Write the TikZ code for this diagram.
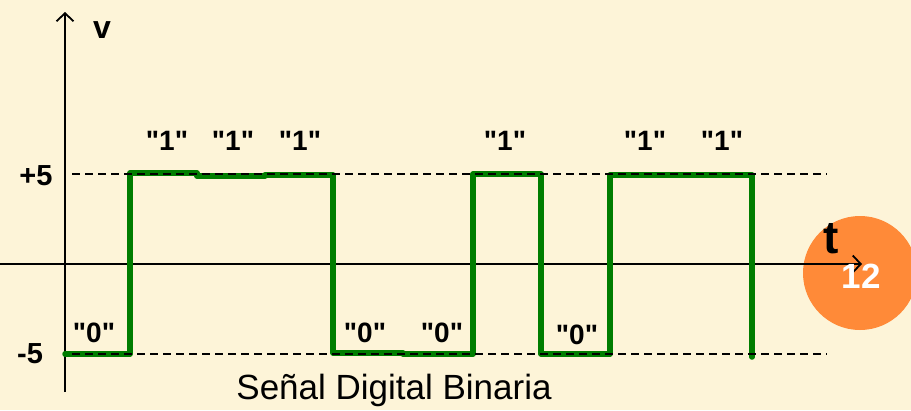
\documentclass[tikz,border=0pt]{standalone}
\usepackage{fontspec}
\setmainfont{Liberation Sans}
\usetikzlibrary{arrows.meta}
\definecolor{paper}{RGB}{253,244,216}
\definecolor{sig}{RGB}{0,125,0}
\definecolor{badge}{RGB}{255,138,56}
\newcommand{\qb}[1]{\textquotedbl#1\textquotedbl}
\tikzset{
  axis/.style={line width=1.8pt,-{Straight Barb[length=8pt,width=17pt,line width=1.8pt]}},
  level/.style={line width=1.9pt,dash pattern=on 8pt off 5pt},
  signal/.style={line width=5.5pt,color=sig,line cap=round,line join=round},
  bit/.style={font=\fontsize{28}{30}\selectfont\bfseries,inner sep=0pt},
  tick/.style={font=\fontsize{29}{31}\selectfont\bfseries,inner sep=0pt}
}
\begin{document}
\begin{tikzpicture}[x=1pt,y=-1pt]
  \fill[paper] (0,0) rectangle (911,410);
  \useasboundingbox (0,0) rectangle (911,410);
  % page badge
  \fill[badge] (860,273) circle (57);
  % axes
  \coordinate (yb) at (65,392);
  \coordinate (yt) at (65,12);
  \coordinate (xl) at (0,264);
  \coordinate (xr) at (862,264);
  \draw[axis] (yb) -- (yt);
  \draw[axis] (xl) -- (xr);
  \node[font=\fontsize{32}{34}\selectfont\bfseries,inner sep=0pt] (vlab) at (102,30) {v};
  \node[font=\fontsize{46}{48}\selectfont\bfseries,inner sep=0pt] (tlab) at (831,239) {t};
  \node[font=\fontsize{35}{37}\selectfont\bfseries,text=white,inner sep=0pt] (num) at (861,276) {12};
  \node[tick] (p5) at (36,176) {+5};
  \node[tick] (m5) at (30,354) {-5};
  % binary signal
  \draw[signal] (65,354) -- (130,354) -- (130,173) -- (197,173) -- (197,176) -- (265,176)
    -- (265,175) -- (333,175) -- (333,353) -- (403,353) -- (403,354) -- (473,354)
    -- (473,174) -- (541,174) -- (541,354) -- (610,354) -- (610,175) -- (752,175) -- (752,357);
  % reference levels, drawn over the signal
  \draw[level] (72,174) -- (827,174);
  \draw[level] (72,354) -- (827,354);
  % bit labels
  \node[bit] (b1) at (167,141) {\qb{1}};
  \node[bit] (b2) at (233,141) {\qb{1}};
  \node[bit] (b3) at (300,141) {\qb{1}};
  \node[bit] (b4) at (505,141) {\qb{1}};
  \node[bit] (b5) at (645,141) {\qb{1}};
  \node[bit] (b6) at (722,141) {\qb{1}};
  \node[bit] (z1) at (94,333) {\qb{0}};
  \node[bit] (z2) at (365,333) {\qb{0}};
  \node[bit] (z3) at (442,333) {\qb{0}};
  \node[bit] (z4) at (577,335) {\qb{0}};
  \node[font=\fontsize{35}{37}\selectfont,inner sep=0pt] (cap) at (394,390) {Señal Digital Binaria};
\end{tikzpicture}
\end{document}
